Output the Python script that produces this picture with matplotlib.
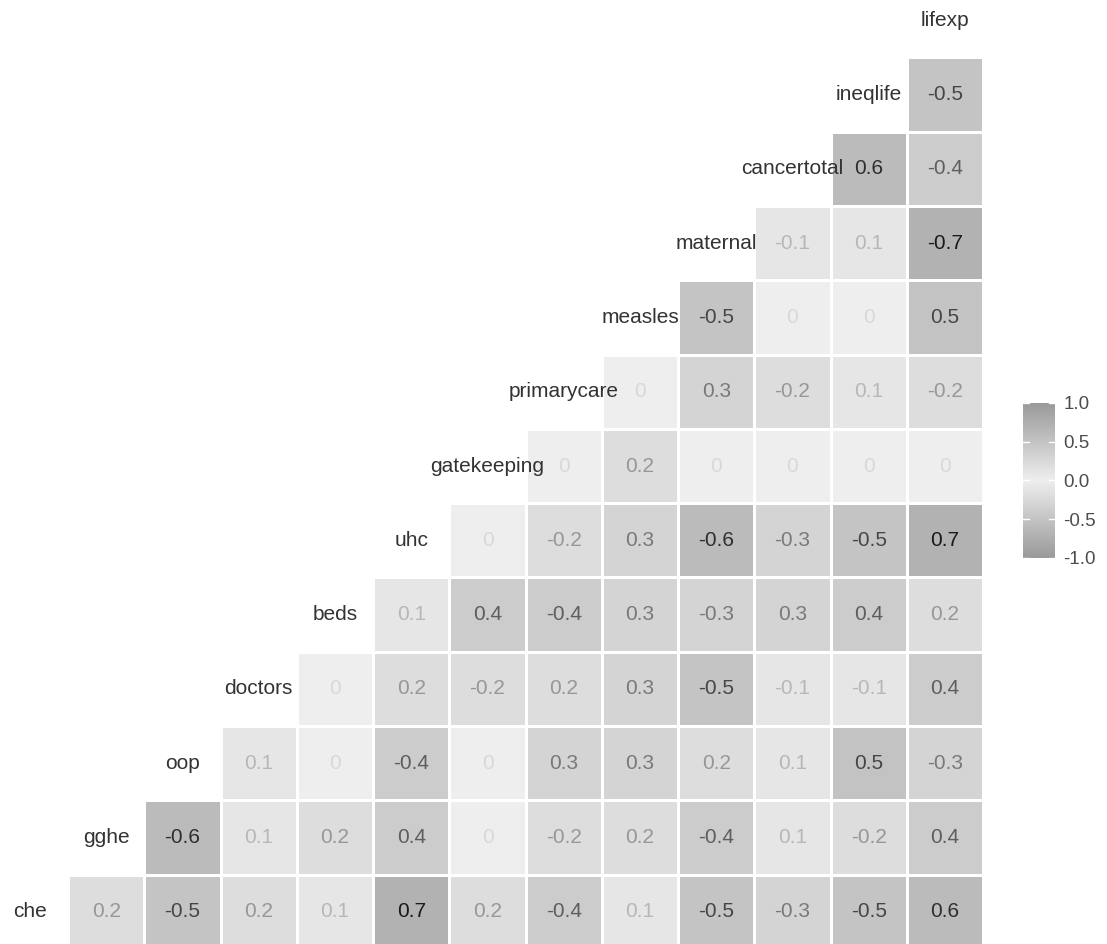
import numpy as np
import matplotlib
matplotlib.use('Agg')
import matplotlib.pyplot as plt
from matplotlib import font_manager
from matplotlib.colors import LinearSegmentedColormap, Normalize

plt.rcParams['font.family'] = ['Liberation Sans', 'DejaVu Sans']

# narrow face for the coefficients if it is around
try:
    font_manager.findfont('Liberation Sans Narrow', fallback_to_default=False)
    num_family, num_size = ['Liberation Sans Narrow', 'DejaVu Sans'], 17.5
except ValueError:
    num_family, num_size = ['Liberation Sans', 'DejaVu Sans'], 15

# --- Data: pairwise correlations (each row lists the variables after it) ---
variables = ['che', 'gghe', 'oop', 'doctors', 'beds', 'uhc', 'gatekeeping',
             'primarycare', 'measles', 'maternal', 'cancertotal', 'ineqlife', 'lifexp']

che = [0.2, -0.5, 0.2, 0.1, 0.7, 0.2, -0.4, 0.1, -0.5, -0.3, -0.5, 0.6]
gghe = [-0.6, 0.1, 0.2, 0.4, 0, -0.2, 0.2, -0.4, 0.1, -0.2, 0.4]
oop = [0.1, 0, -0.4, 0, 0.3, 0.3, 0.2, 0.1, 0.5, -0.3]
doctors = [0, 0.2, -0.2, 0.2, 0.3, -0.5, -0.1, -0.1, 0.4]
beds = [0.1, 0.4, -0.4, 0.3, -0.3, 0.3, 0.4, 0.2]
uhc = [0, -0.2, 0.3, -0.6, -0.3, -0.5, 0.7]
gatekeeping = [0, 0.2, 0, 0, 0, 0]
primarycare = [0, 0.3, -0.2, 0.1, -0.2]
measles = [-0.5, 0, 0, 0.5]
maternal = [-0.1, 0.1, -0.7]
cancertotal = [0.6, -0.4]
ineqlife = [-0.5]

rows = [che, gghe, oop, doctors, beds, uhc, gatekeeping,
        primarycare, measles, maternal, cancertotal, ineqlife]

n = len(variables)
corr = np.full((n, n), np.nan)
for i, r in enumerate(rows):
    corr[i, i + 1:] = r

# --- Plot ---
W, H = 1107, 944
fig = plt.figure(figsize=(W / 100, H / 100), dpi=100)
ax = fig.add_axes([-8 / W, -5 / H, 991 / W, 966 / H])

cmap = LinearSegmentedColormap.from_list('greys2', ['#999999', '#EEEEEE', '#999999'])
norm = Normalize(vmin=-1, vmax=1)
edges = np.arange(-0.5, n, 1.0)
mesh = ax.pcolormesh(edges, edges, np.ma.masked_invalid(corr), cmap=cmap, norm=norm,
                     edgecolors='white', linewidth=1.0)

vmax_abs = np.nanmax(np.abs(corr))
for i in range(n):
    for j in range(i + 1, n):
        v = corr[i, j]
        txt = '0' if v == 0 else f'{v:g}'
        alpha = 0.1 + 0.9 * abs(v) / vmax_abs
        ax.text(j, i, txt, ha='center', va='center', fontsize=num_size,
                family=num_family, color='#1a1a1a', alpha=alpha)

for i, name in enumerate(variables):
    ax.text(i, i, name, ha='center', va='center', fontsize=15, color='#333333')

ax.set_xlim(-0.5, n - 0.5)
ax.set_ylim(-0.5, n - 0.5)
ax.axis('off')

# --- Colour legend ---
cax = fig.add_axes([1023 / W, (H - 558) / H, 32 / W, 155 / H])
ticks = [-1, -0.5, 0, 0.5, 1]
cb = fig.colorbar(mesh, cax=cax, ticks=ticks)
cb.outline.set_visible(False)
cb.ax.set_yticklabels(['-1.0', '-0.5', '0.0', '0.5', '1.0'])
cb.ax.tick_params(length=0, pad=6, labelsize=13.5, labelcolor='#4D4D4D')
for t in ticks:
    for x0, x1 in [(0, 0.2), (0.8, 1)]:
        cax.plot([x0, x1], [t, t], transform=cax.get_yaxis_transform(),
                 color='white', lw=1)

fig.savefig('out.png', dpi=100, facecolor='white')
